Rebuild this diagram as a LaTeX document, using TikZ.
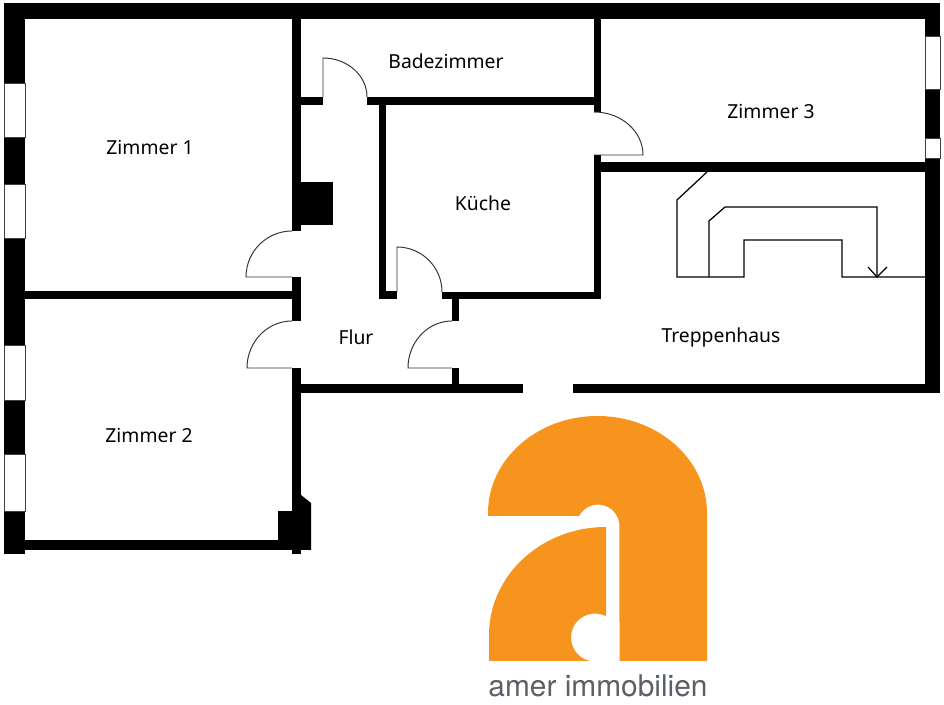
\documentclass[tikz,border=0pt]{standalone}
\usepackage{fontspec}
\setmainfont{Noto Sans}
\newfontfamily\logofont{TeX Gyre Heros}
\definecolor{logoorange}{HTML}{F7941E}
\definecolor{logogray}{HTML}{5B6066}
\tikzset{
  wall/.style={fill=black},
  windowpane/.style={draw=black!75, line width=0.4pt, fill=white},
  doorline/.style={draw=black!80, line width=0.55pt},
  stairline/.style={draw=black, line width=0.7pt},
  roomlabel/.style={draw=none, anchor=base, inner sep=0pt, font=\fontsize{11}{13}\selectfont}
}

\begin{document}
\begin{tikzpicture}[x=0.02cm, y=0.02cm, yscale=-1]
    \useasboundingbox (0,0) rectangle (944,705);
    \fill[white] (0,0) rectangle (944,705);

    % outer walls
    \fill[wall] (4,3) rectangle (940,19);
    \fill[wall] (4,3) rectangle (25,554);
    \fill[wall] (925,3) rectangle (940,393);
    \fill[wall] (573,384) rectangle (940,393);
    \fill[wall] (301,384) rectangle (523,393);
    \fill[wall] (25,540) rectangle (292,550);

    % inner walls
    \fill[wall] (292,19) rectangle (301,231);
    \fill[wall] (292,277) rectangle (301,321);
    \fill[wall] (292,368) rectangle (301,554);
    \fill[wall] (25,291) rectangle (292,299);
    \fill[wall] (301,97) rectangle (323,105);
    \fill[wall] (367,97) rectangle (601,105);
    \fill[wall] (594,19) rectangle (601,112);
    \fill[wall] (594,155) rectangle (601,299);
    \fill[wall] (601,162) rectangle (925,172);
    \fill[wall] (379,105) rectangle (386,299);
    \fill[wall] (379,291) rectangle (397,299);
    \fill[wall] (442,292) rectangle (601,299);
    \fill[wall] (452,299) rectangle (459,321);
    \fill[wall] (452,368) rectangle (459,384);

    % chimneys
    \fill[wall] (301,182) rectangle (333,225);
    \fill[wall] (278,511) -- (292,511) -- (292,550) -- (278,550) -- cycle;
    \fill[wall] (301,495) -- (311,503) -- (311,550) -- (301,550) -- cycle;

    % windows
    \draw[windowpane] (4,83) rectangle (25,137);
    \draw[windowpane] (4,184) rectangle (25,238);
    \draw[windowpane] (4,345) rectangle (25,400);
    \draw[windowpane] (4,454) rectangle (25,511);
    \draw[windowpane] (925,36) rectangle (940,89);
    \draw[windowpane] (925,138) rectangle (940,158);

    % doors
    \draw[doorline] (292,231) arc[start angle=-90, end angle=-180, x radius=46, y radius=46] -- (292,277);
    \draw[doorline] (292,321) arc[start angle=-90, end angle=-180, x radius=45, y radius=47] -- (292,368);
    \draw[doorline] (323,97) -- (323,58) arc[start angle=-90, end angle=0, x radius=44, y radius=39];
    \draw[doorline] (594,112) arc[start angle=-90, end angle=0, x radius=49, y radius=43] -- (594,155);
    \draw[doorline] (397,292) -- (397,247) arc[start angle=-90, end angle=0, x radius=45, y radius=45];
    \draw[doorline] (452,321) arc[start angle=-90, end angle=-180, x radius=44, y radius=47] -- (452,368);

    % stairs
    \draw[stairline] (707,172) -- (677,200) -- (677,277) -- (744,277) -- (744,240) -- (842,240) -- (842,277) -- (925,277);
    \draw[stairline] (709,277) -- (709,221) -- (725,207) -- (877,207) -- (877,277);
    \draw[stairline] (868,267) -- (877,277) -- (887,267);

    % rooms
    \node(zimmer1)[roomlabel] at (150,155) {Zimmer 1};
    \node(zimmer2)[roomlabel] at (149,443) {Zimmer 2};
    \node(zimmer3)[roomlabel] at (771,119) {Zimmer 3};
    \node(bad)[roomlabel] at (446,69) {Badezimmer};
    \node(kueche)[roomlabel] at (483,211) {Küche};
    \node(flur)[roomlabel] at (356,345) {Flur};
    \node(treppe)[roomlabel] at (721,343) {Treppenhaus};

    % logo
    \fill[logoorange] (707,661) -- (707,513) arc[start angle=0, end angle=-180, x radius=109.5, y radius=97]
        -- (488,516) -- (579,516) arc[start angle=-152, end angle=0, radius=21.5] -- (619.5,661) -- cycle;
    \fill[logoorange] (606,527) arc[start angle=-90, end angle=-180, x radius=117, y radius=108]
        -- (489,661) -- (590,661) arc[start angle=102, end angle=297, radius=24] -- (606,614) -- cycle;
    \node(logotext)[anchor=base, inner sep=0pt, text=logogray, font=\logofont\fontsize{17}{20}\selectfont] at (598,697) {amer immobilien};
\end{tikzpicture}
\end{document}
